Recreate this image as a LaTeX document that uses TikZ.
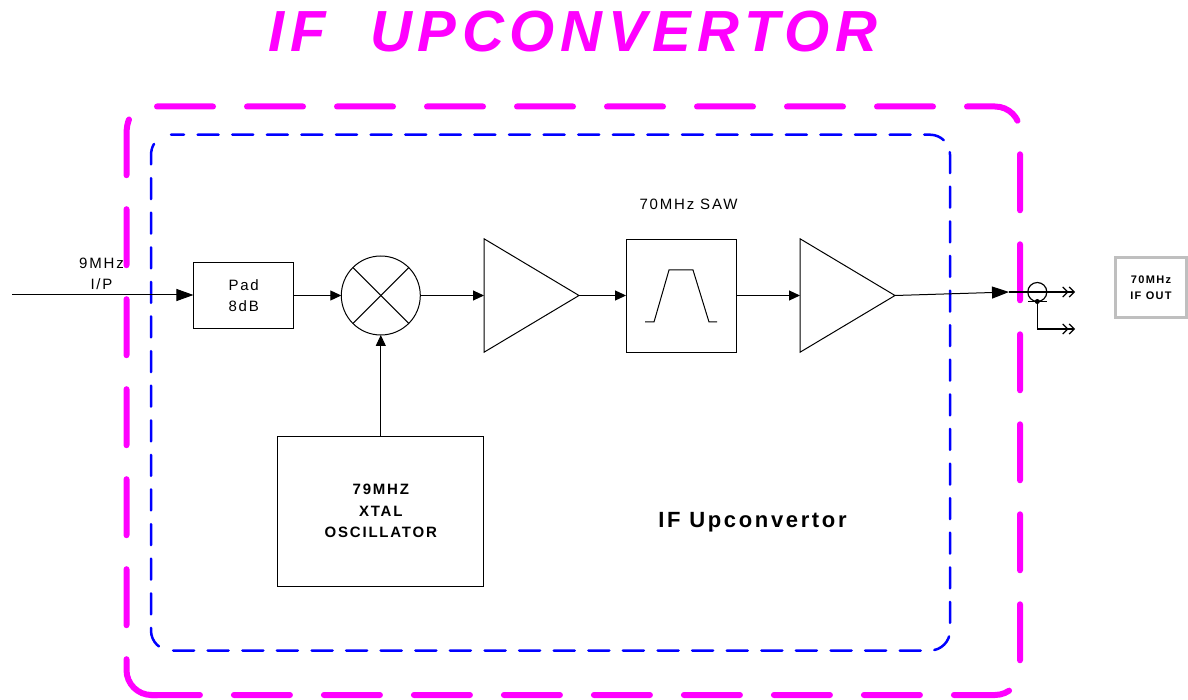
\documentclass[tikz,border=0pt]{standalone}
\usepackage{fontspec}
\setmainfont{Liberation Sans}
\newfontfamily\spacedfont[LetterSpace=12]{Liberation Sans}
\newfontfamily\titlefont[LetterSpace=10]{Liberation Sans}
\usetikzlibrary{arrows.meta, shapes.geometric}
\definecolor{titlepink}{RGB}{255,0,255}
\definecolor{innerblue}{RGB}{0,0,255}
\tikzset{
    blockbox/.style = {draw, line width=1pt, inner sep=0pt, outer sep=0pt, align=center, font=\spacedfont\fontsize{15}{21}\selectfont},
    ampbox/.style = {draw, line width=1pt, isosceles triangle, isosceles triangle stretches, inner sep=0pt, outer sep=0pt, minimum width=113.5pt, minimum height=95pt, anchor=lower side},
    signal/.style = {line width=1pt, -{Triangle[length=11pt, width=10pt]}},
    bigsignal/.style = {line width=1pt, -{Triangle[length=17pt, width=12pt]}},
    coaxout/.style = {line width=1.2pt, -{Straight Barb[length=5pt, width=10pt] Straight Barb[length=5pt, width=10pt]}},
    plainlabel/.style = {inner sep=0pt, align=center, font=\spacedfont\fontsize{15}{21}\selectfont},
    boldlabel/.style = {inner sep=0pt, align=center, font=\spacedfont\bfseries\fontsize{15}{21.5}\selectfont},
    outerline/.style = {titlepink, line width=6pt, line cap=round, dash pattern=on 56pt off 34pt},
    innerline/.style = {innerblue, line width=2.5pt, line cap=round, dash pattern=on 21pt off 13.6pt}
}
\begin{document}
\begin{tikzpicture}[x=1pt, y=-1pt]
    \useasboundingbox (0, 0) rectangle (1188, 700);

    \node[inner sep=0pt, text=titlepink, font=\titlefont\bfseries\itshape\fontsize{58}{58}\selectfont] (title) at (573, 32) {IF\ \ UPCONVERTOR};

    \draw[outerline, rounded corners=25pt] (157, 106.5) -- (1020, 106.5) -- (1020, 695) -- (150, 695);
    \draw[outerline] (129, 119.5) .. controls (127.5, 123) and (126.5, 128) .. (126.5, 135) -- (126.5, 400) [rounded corners=25pt] -- (126.5, 695) -- (160, 695);
    \draw[innerline, dash phase=8pt, rounded corners=20pt] (171, 134.7) -- (950, 134.7) -- (950, 650.5) -- (171, 650.5);
    \draw[innerline] (154, 144) .. controls (152, 147) and (151, 151) .. (151, 156) -- (151, 400) [rounded corners=20pt] -- (151, 650.5) -- (171, 650.5);

    \coordinate (in) at (12, 295);
    \node[blockbox, minimum width=100.5pt, minimum height=66.5pt] (pad) at (243.7, 295.5) {Pad\\8dB};
    \node[draw, circle, line width=1pt, inner sep=0pt, outer sep=0pt, minimum size=79pt] (mix) at (380.8, 295.5) {};
    \node[ampbox] (amp1) at (484, 295.5) {};
    \node[draw, line width=1pt, inner sep=0pt, outer sep=0pt, minimum width=110.7pt, minimum height=113pt] (saw) at (681.4, 296.2) {};
    \node[ampbox] (amp2) at (800, 295.5) {};
    \node[blockbox, boldlabel, minimum width=206pt, minimum height=150pt] (osc) at (380.8, 511) {79MHZ\\XTAL\\OSCILLATOR};
    \node[draw, circle, line width=1.2pt, inner sep=0pt, outer sep=0pt, minimum size=19pt] (coax) at (1037.3, 292) {};
    \coordinate (coaxin) at (1009, 292);
    \coordinate (coaxbase) at (1037.3, 301.5);
    \coordinate (outa) at (1075, 292);
    \coordinate (outb) at (1075, 329);
    \node[draw=black!25, line width=2.5pt, inner sep=0pt, outer sep=0pt, minimum width=71pt, minimum height=60pt, align=center, font=\spacedfont\bfseries\fontsize{11}{16}\selectfont] (ifout) at (1151, 287.5) {70MHz\\IF OUT};

    \node[plainlabel] (inlabel) at (101.5, 274) {9MHz\\I/P};
    \node[plainlabel] (sawlabel) at (688.5, 204) {70MHz SAW};
    \node[inner sep=0pt, font=\spacedfont\bfseries\fontsize{22}{22}\selectfont] (iflabel) at (752.5, 522.5) {IF Upconvertor};

    \draw[bigsignal] (in) -- (pad.west |- in);
    \draw[signal] (pad) -- (mix);
    \draw[signal] (mix) -- (amp1.lower side);
    \draw[signal] (amp1.apex) -- (saw.west |- amp1.apex);
    \draw[signal] (saw.east |- amp2.lower side) -- (amp2.lower side);
    \draw[signal] (osc.north) -- (mix.south);
    \draw[bigsignal] (amp2.apex) -- (coaxin);
    \draw[coaxout] (coaxin) -- (outa);
    \draw[coaxout] (coaxbase) |- (outb);
    \draw[line width=1.5pt] (coax.west |- coaxbase) -- (coax.east |- coaxbase);
    \fill (coaxbase) circle (2.5pt);

    \draw[line width=1pt] (mix.45) -- (mix.225);
    \draw[line width=1pt] (mix.135) -- (mix.315);
    \draw[line width=1pt] (645, 322) -- (654, 322) -- (669, 270) -- (693, 270) -- (709, 322) -- (717, 322);
\end{tikzpicture}
\end{document}
